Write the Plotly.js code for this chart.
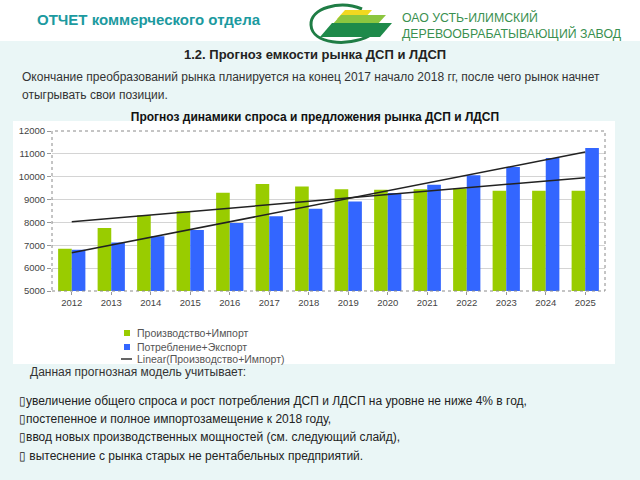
<!DOCTYPE html>
<html>
<head>
<meta charset="utf-8">
<script src="https://cdn.plot.ly/plotly-3.0.1.min.js"></script>
<style>
  html, body { margin: 0; padding: 0; background: #eaf6f6; }
  #chart { width: 640px; height: 480px; }
</style>
</head>
<body>
<div id="chart"></div>
<script>
// data
const years = ["2012", "2013", "2014", "2015", "2016", "2017", "2018",
  "2019", "2020", "2021", "2022", "2023", "2024", "2025"];
const supply = [6850, 7760, 8310, 8490, 9300, 9680, 9570,
  9450, 9430, 9450, 9480, 9390, 9390, 9390];
const demand = [6810, 7120, 7400, 7670, 7970, 8270, 8600,
  8920, 9290, 9650, 10060, 10420, 10820, 11260];
const seriesNames = ["Производство+Импорт", "Потребление+Экспорт",
  "Linear(Производство+Импорт)", "Linear(Потребление+Экспорт)"];
const bullets = [
  "\u25AFувеличение общего спроса и рост потребления ДСП и ЛДСП на уровне не ниже 4% в год,",
  "\u25AFпостепенное и полное импортозамещение к 2018 году,",
  "\u25AFввод новых производственных мощностей (см. следующий слайд),",
  "\u25AF вытеснение с рынка старых не рентабельных предприятий.",
];

const GREEN = "#99cc00";
const BLUE = "#3366ff";

// least squares trend, like the Excel "Linear" trendline
function linearFit(vals) {
  const n = vals.length;
  const mx = (n - 1) / 2;
  const my = vals.reduce((a, v) => a + v, 0) / n;
  let sxy = 0, sxx = 0;
  vals.forEach((v, i) => {
    sxy += (i - mx) * (v - my);
    sxx += (i - mx) * (i - mx);
  });
  const slope = sxy / sxx;
  return vals.map((_, i) => my + slope * (i - mx));
}

// plot area in page pixels
const L = 52, R = 605, T = 131, B = 291;
const px = (x) => (x - L) / (R - L);
const py = (y) => (B - y) / (B - T);

const font = "Liberation Sans, Arial, sans-serif";

function label(x, y, text, size, color, extra) {
  return Object.assign({
    xref: "paper", yref: "paper", x: px(x), y: py(y),
    xanchor: "left", yanchor: "middle", showarrow: false,
    text: text, font: { family: font, size: size, color: color },
  }, extra || {});
}

function box(x0, y0, x1, y1, fill, layer) {
  return {
    type: "rect", xref: "paper", yref: "paper", layer: layer || "below",
    x0: px(x0), x1: px(x1), y0: py(y0), y1: py(y1),
    fillcolor: fill, line: { width: 0 },
  };
}

function poly(points, fill) {
  const d = points.map((p, i) => (i ? "L" : "M") + px(p[0]) + "," + py(p[1])).join(" ") + " Z";
  return { type: "path", xref: "paper", yref: "paper", path: d,
    fillcolor: fill, line: { width: 0 } };
}

// logo ring, open to the right
const ring = [[362, 9], [340, 0], [310, 8], [311, 25], [312, 44], [348, 47], [369, 36]];
const ringPath = "M" + px(ring[0][0]) + "," + py(ring[0][1]) +
  " C" + ring.slice(1, 4).map(p => px(p[0]) + "," + py(p[1])).join(" ") +
  " C" + ring.slice(4).map(p => px(p[0]) + "," + py(p[1])).join(" ") +
  " " + px(369) + "," + py(36);

const data = [
  {
    x: years, y: supply, type: "bar", name: seriesNames[0],
    marker: { color: GREEN },
  },
  {
    x: years, y: demand, type: "bar", name: seriesNames[1],
    marker: { color: BLUE },
  },
  {
    x: years, y: linearFit(supply), type: "scatter", mode: "lines",
    name: seriesNames[2], line: { color: "#222222", width: 1.5 },
  },
  {
    x: years, y: linearFit(demand), type: "scatter", mode: "lines",
    name: seriesNames[3], line: { color: "#222222", width: 1.5 },
  },
];

const annotations = [
  label(35, 20, "<b>ОТЧЕТ коммерческого отдела</b>", 15, "#1c9aa0"),
  label(400, 17, "ОАО УСТЬ-ИЛИМСКИЙ", 12.3, "#3a9050"),
  label(400, 33, "ДЕРЕВООБРАБАТЫВАЮЩИЙ ЗАВОД", 12.3, "#3a9050"),
  label(315, 55, "<b>1.2. Прогноз емкости рынка ДСП и ЛДСП</b>", 13, "#222222",
    { xanchor: "center" }),
  label(20, 77, "Окончание преобразований рынка планируется на конец 2017 начало 2018 гг, после чего рынок начнет", 12, "#333333"),
  label(20, 95, "отыгрывать свои позиции.", 12, "#333333"),
  label(28, 372, "Данная прогнозная модель учитывает:", 12, "#333333"),
  // compact legend, as on the slide
  label(135, 333, seriesNames[0], 10.5, "#555555"),
  label(135, 347, seriesNames[1], 10.5, "#555555"),
  label(135, 359, seriesNames[2], 10.5, "#555555"),
];
bullets.forEach((b, i) => {
  annotations.push(label(17, [401, 419, 437, 456][i], b, 12, "#222222"));
});

const shapes = [
  box(0, 0, 640, 41, "#ffffff"),
  box(13, 121, 615, 364, "#ffffff"),
  { type: "path", xref: "paper", yref: "paper", path: ringPath,
    line: { color: "#1f7d45", width: 3 } },
  poly([[345, 10], [372, 10], [364, 19], [337, 19]], "#f2d820"),
  poly([[341, 15], [386, 15], [376, 26], [331, 26]], "#8cc63f"),
  poly([[332, 23], [392, 23], [380, 37], [320, 37]], "#1e8a4a"),
  {
    type: "rect", xref: "paper", yref: "paper", x0: 0, x1: 1, y0: 0, y1: 1,
    line: { color: "#8a8a8a", width: 1, dash: "dot" },
  },
  box(124, 330, 130, 336, GREEN, "above"),
  box(124, 344, 130, 350, BLUE, "above"),
  {
    type: "line", xref: "paper", yref: "paper",
    x0: px(121), x1: px(132), y0: py(359), y1: py(359),
    line: { color: "#333333", width: 1.5 },
  },
];

const layout = {
  width: 640,
  height: 480,
  margin: { l: L, r: 640 - R, t: T, b: 480 - B, pad: 0 },
  paper_bgcolor: "#eaf6f6",
  plot_bgcolor: "#ffffff",
  showlegend: false,
  title: {
    text: "<b>Прогноз динамики спроса и предложения рынка ДСП и ЛДСП</b>",
    x: 315 / 640, xanchor: "center", xref: "container",
    y: 1 - 117 / 480, yanchor: "middle", yref: "container",
    font: { family: font, size: 12, color: "#111111" },
  },
  barmode: "group",
  bargap: 0.31,
  bargroupgap: 0,
  xaxis: {
    type: "category",
    tickfont: { family: font, size: 9.5, color: "#444444" },
    ticks: "outside", ticklen: 3, tickcolor: "#999999",
    showgrid: false, zeroline: false,
  },
  yaxis: {
    range: [5000, 12000],
    dtick: 1000,
    tickformat: "d",
    tickfont: { family: font, size: 9.5, color: "#444444" },
    ticks: "outside", ticklen: 4, tickcolor: "#999999",
    gridcolor: "#d4d4d4", zeroline: false,
  },
  annotations: annotations,
  shapes: shapes,
};

Plotly.newPlot("chart", data, layout, { displayModeBar: false, staticPlot: true });
</script>
</body>
</html>
